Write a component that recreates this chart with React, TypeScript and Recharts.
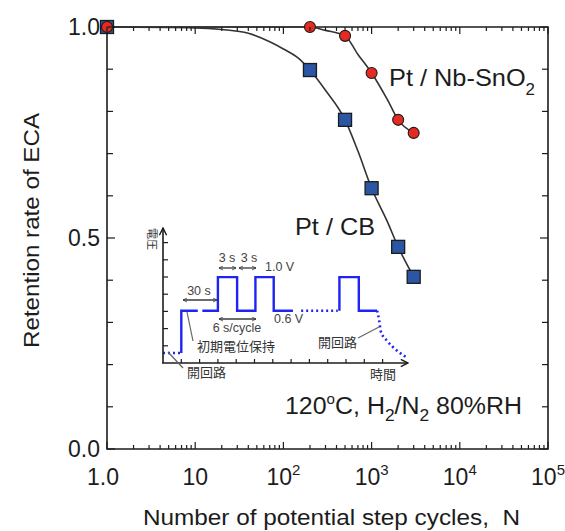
import { ComposedChart, LineChart, Line, XAxis, YAxis, ReferenceArea } from 'recharts';

// retention of ECA vs. potential step cycles (measured points)
const cycles = [1, 200, 500, 1000, 2000, 3000];
const cbRetention = [1.0, 0.898, 0.78, 0.618, 0.479, 0.408];
const nbRetention = [1.0, 1.0, 0.979, 0.891, 0.78, 0.749];

// guide curves drawn through the points
const cbCurveN = [1, 10, 20, 40, 70, 100, 150, 200, 300, 500, 700, 1000, 1500, 2000, 3000];
const cbCurveR = [1.0, 0.998, 0.994, 0.985, 0.965, 0.948, 0.925, 0.898, 0.85, 0.78, 0.706, 0.618, 0.54, 0.479, 0.408];
const nbCurveN = [1, 200, 300, 500, 700, 1000, 1500, 2000, 3000];
const nbCurveR = [1.0, 1.0, 0.992, 0.979, 0.935, 0.891, 0.829, 0.78, 0.749];

// axis ticks
const decades = [1, 10, 100, 1000, 10000, 100000];
const decadeBase = ['1.0', '10', '10', '10', '10', '10'];
const decadeExp = ['', '', '2', '3', '4', '5'];
const yTicks = [0, 0.1, 0.2, 0.3, 0.4, 0.5, 0.6, 0.7, 0.8, 0.9, 1.0];
const yLabels: Record<string, string> = { '0': '0.0', '0.5': '0.5', '1': '1.0' };

// inset: potential step waveform (schematic time / level units)
const holdT = [1.0, 1.0, 1.9];
const holdV = [0.64, 3.1, 3.1];
const stepsT = [2.15, 3.0, 3.0, 4.05, 4.05, 5.05, 5.05, 6.05, 6.05, 7.1];
const stepsV = [3.1, 3.1, 5.05, 5.05, 3.1, 3.1, 5.05, 5.05, 3.1, 3.1];
const lastT = [9.64, 9.64, 10.7, 10.7, 11.7];
const lastV = [3.1, 5.05, 5.05, 3.1, 3.1];
const ocvStartT = [0, 1.0];
const ocvStartV = [0.64, 0.64];
const skipT = [7.55, 9.55];
const skipV = [3.1, 3.1];
const decayT = [11.7, 11.82, 11.9, 12.27, 12.73, 13.36];
const decayV = [3.1, 2.49, 1.9, 1.32, 0.83, 0.35];

const zip = (xs: number[], ys: number[]) => xs.map((n, i) => ({ n, r: ys[i] }));
const wave = (ts: number[], vs: number[]) => ts.map((t, i) => ({ t, v: vs[i] }));

const minorTicks: number[] = [];
for (let d = 1; d < 100000; d *= 10) {
  for (let k = 2; k <= 9; k++) minorTicks.push(d * k);
}
const xTicks = [...decades, ...minorTicks].sort((a, b) => a - b);

const W = 565;
const H = 531;
const LEFT = 107;
const RIGHT = 548;
const TOP = 27;
const BOTTOM = 449;
const FONT = '"Liberation Sans", Arial, sans-serif';
const CJK = '"Noto Sans CJK JP", "Noto Sans", sans-serif';
const INK = '#1c1c1c';
const RED = '#e52a22';
const BLUE = '#2a56a3';
const WAVE = '#1f24f2';

const XTick = (props: any) => {
  const { x, payload } = props;
  const idx = decades.indexOf(payload.value);
  const len = idx >= 0 ? 7 : 4;
  return (
    <g>
      <line x1={x} x2={x} y1={BOTTOM} y2={BOTTOM - len} stroke={INK} strokeWidth={1.2} />
      <line x1={x} x2={x} y1={TOP} y2={TOP + len} stroke={INK} strokeWidth={1.2} />
      {idx >= 0 && (
        <text x={idx === 0 ? x - 4 : x} y={485} textAnchor="middle" fontSize={23} fontFamily={FONT} fill={INK}>
          {decadeBase[idx]}
          {decadeExp[idx] && (
            <tspan dy={-10} fontSize={15}>
              {decadeExp[idx]}
            </tspan>
          )}
        </text>
      )}
    </g>
  );
};

const YTick = (props: any) => {
  const { y, payload } = props;
  const key = String(Math.round(payload.value * 10) / 10);
  const label = yLabels[key];
  const len = label ? 8 : 6;
  return (
    <g>
      <line x1={LEFT} x2={LEFT + len} y1={y} y2={y} stroke={INK} strokeWidth={1.2} />
      <line x1={RIGHT} x2={RIGHT - len} y1={y} y2={y} stroke={INK} strokeWidth={1.2} />
      {label && (
        <text x={100} y={y + 8} textAnchor="end" fontSize={23} fontFamily={FONT} fill={INK}>
          {label}
        </text>
      )}
    </g>
  );
};

const Square = (props: any) => {
  const { cx, cy, index } = props;
  if (cx == null || cy == null) return <g key={`s${index}`} />;
  return (
    <rect key={`s${index}`} x={cx - 6.5} y={cy - 6.5} width={13} height={13} fill={BLUE} stroke={INK} strokeWidth={1.3} />
  );
};

const Circle = (props: any) => {
  const { cx, cy, index } = props;
  if (cx == null || cy == null) return <g key={`c${index}`} />;
  return <circle key={`c${index}`} cx={cx} cy={cy} r={5.5} fill={RED} stroke={INK} strokeWidth={1.1} />;
};

// inset placement (pixels) and scale units
const IN_X = 163;
const IN_Y = 228;
const IN_W = 245;
const IN_H = 136;
const IN_UX = 18.3;
const IN_UY = 17.2;

const Inset = () => (
  <div style={{ position: 'absolute', left: IN_X, top: IN_Y, width: IN_W, height: IN_H }}>
    <LineChart width={IN_W} height={IN_H} margin={{ top: 0, right: 0, bottom: 0, left: 0 }}>
      <XAxis dataKey="t" type="number" domain={[0, IN_W / IN_UX]} hide allowDataOverflow />
      <YAxis type="number" domain={[0, IN_H / IN_UY]} hide allowDataOverflow />
      <Line data={wave(ocvStartT, ocvStartV)} dataKey="v" stroke={WAVE} strokeWidth={2.6} strokeDasharray="2 3" dot={false} isAnimationActive={false} />
      <Line data={wave(holdT, holdV)} dataKey="v" stroke={WAVE} strokeWidth={2.4} dot={false} isAnimationActive={false} />
      <Line data={wave(stepsT, stepsV)} dataKey="v" stroke={WAVE} strokeWidth={2.4} dot={false} isAnimationActive={false} />
      <Line data={wave(skipT, skipV)} dataKey="v" stroke={WAVE} strokeWidth={2.6} strokeDasharray="2 3" dot={false} isAnimationActive={false} />
      <Line data={wave(lastT, lastV)} dataKey="v" stroke={WAVE} strokeWidth={2.4} dot={false} isAnimationActive={false} />
      <Line data={wave(decayT, decayV)} dataKey="v" type="monotone" stroke={WAVE} strokeWidth={2.6} strokeDasharray="2 3" dot={false} isAnimationActive={false} />
    </LineChart>
  </div>
);

const InsetDecor = () => {
  const x0 = IN_X;
  const y0 = IN_Y + IN_H - 1;
  const gray = '#3a3a3a';
  const txt = { fontFamily: FONT, fontSize: 12.5, fill: '#444' } as const;
  const jp = { fontFamily: CJK, fontSize: 13, fill: '#333' } as const;
  return (
    <g>
      <defs>
        <marker id="tip" viewBox="0 0 10 10" refX="9" refY="5" markerWidth="5" markerHeight="5" orient="auto-start-reverse" markerUnits="userSpaceOnUse">
          <path d="M1,1 L9,5 L1,9" fill="none" stroke={gray} strokeWidth={1.6} />
        </marker>
        <marker id="axtip" viewBox="0 0 10 10" refX="9" refY="5" markerWidth="9" markerHeight="9" orient="auto" markerUnits="userSpaceOnUse">
          <path d="M1,1 L9,5 L1,9" fill="none" stroke={INK} strokeWidth={1.6} />
        </marker>
      </defs>
      {/* inset axes */}
      <line x1={x0} y1={y0} x2={x0} y2={IN_Y} stroke={INK} strokeWidth={1.6} markerEnd="url(#axtip)" />
      <line x1={x0 - 1} y1={y0} x2={408} y2={y0} stroke={INK} strokeWidth={1.6} markerEnd="url(#axtip)" />
      {[1, 2, 3, 4, 5, 6, 7].map((k) => (
        <line key={`iy${k}`} x1={x0} x2={x0 + 5} y1={y0 - k * IN_UY} y2={y0 - k * IN_UY} stroke={INK} strokeWidth={1.2} />
      ))}
      {[1, 2, 3, 4, 5, 6, 7, 8, 9, 10, 11, 12].map((k) => (
        <line key={`ix${k}`} x1={x0 + k * IN_UX} x2={x0 + k * IN_UX} y1={y0} y2={y0 - 4} stroke={INK} strokeWidth={1.2} />
      ))}
      <text transform="translate(153 239) rotate(90)" textAnchor="middle" dominantBaseline="central" {...jp} fontSize={11}>
        電圧
      </text>

      {/* timing arrows */}
      <line x1={183} y1={300} x2={217} y2={300} stroke={gray} strokeWidth={1.3} markerStart="url(#tip)" markerEnd="url(#tip)" />
      <text x={199} y={295} textAnchor="middle" {...txt}>30 s</text>
      <line x1={219} y1={268} x2={236} y2={268} stroke={gray} strokeWidth={1.3} markerStart="url(#tip)" markerEnd="url(#tip)" />
      <line x1={239} y1={268} x2={256} y2={268} stroke={gray} strokeWidth={1.3} markerStart="url(#tip)" markerEnd="url(#tip)" />
      <text x={227} y={262} textAnchor="middle" {...txt}>3 s</text>
      <text x={249} y={262} textAnchor="middle" {...txt}>3 s</text>
      <text x={265} y={271} {...txt}>1.0 V</text>
      <line x1={219} y1={319} x2={256} y2={319} stroke={gray} strokeWidth={1.3} markerStart="url(#tip)" markerEnd="url(#tip)" />
      <text x={237} y={332} textAnchor="middle" {...txt}>6 s/cycle</text>
      <text x={274} y={323} {...txt}>0.6 V</text>

      {/* callouts */}
      <line x1={187} y1={312} x2={193} y2={341} stroke="#666" strokeWidth={1.2} />
      <text x={197} y={351} {...jp}>初期電位保持</text>
      <line x1={168} y1={352} x2={183} y2={368} stroke="#666" strokeWidth={1.2} />
      <text x={187} y={377} {...jp}>開回路</text>
      <line x1={358} y1={338} x2={379} y2={327} stroke="#666" strokeWidth={1.2} />
      <text x={318} y={347} {...jp}>開回路</text>
      <text x={370} y={379} {...jp}>時間</text>
    </g>
  );
};

const Labels = () => (
  <g fontFamily={FONT} fill={INK}>
    <text x={389} y={86} fontSize={24} textLength={146} lengthAdjust="spacingAndGlyphs">
      Pt / Nb-SnO
      <tspan dy={9} fontSize={16}>2</tspan>
    </text>
    <text x={295} y={235} fontSize={24} textLength={80} lengthAdjust="spacingAndGlyphs">Pt / CB</text>
    <text x={285} y={414} fontSize={23} textLength={237} lengthAdjust="spacingAndGlyphs">
      120
      <tspan dy={-10} fontSize={14}>o</tspan>
      <tspan dy={10}>C, H</tspan>
      <tspan dy={7} fontSize={16}>2</tspan>
      <tspan dy={-7}>/N</tspan>
      <tspan dy={7} fontSize={16}>2</tspan>
      <tspan dy={-7}> 80%RH</tspan>
    </text>
    <text x={143} y={525} fontSize={22} textLength={377} lengthAdjust="spacingAndGlyphs">
      Number of potential step cycles,{'\u00a0\u00a0'}N
    </text>
    <text
      transform="translate(31 231) rotate(-90)"
      x={-117}
      fontSize={22}
      dominantBaseline="central"
      textLength={235}
      lengthAdjust="spacingAndGlyphs"
    >
      Retention rate of ECA
    </text>
  </g>
);

export default function App() {
  return (
    <div style={{ position: 'absolute', left: 0, top: 0, width: W, height: H, background: '#fff' }}>
      <ComposedChart width={W} height={H} margin={{ top: TOP, right: W - RIGHT, bottom: 0, left: 0 }}>
        <XAxis
          dataKey="n"
          type="number"
          scale="log"
          domain={[1, 100000]}
          ticks={xTicks}
          interval={0}
          tick={XTick}
          tickLine={false}
          axisLine={false}
          height={H - BOTTOM}
        />
        <YAxis
          type="number"
          domain={[0, 1]}
          ticks={yTicks}
          interval={0}
          tick={YTick}
          tickLine={false}
          axisLine={false}
          width={LEFT}
        />
        <ReferenceArea x1={1} x2={100000} y1={0} y2={1} fill="none" stroke={INK} strokeWidth={1.6} ifOverflow="visible" />
        <Line data={zip(cbCurveN, cbCurveR)} dataKey="r" type="monotone" stroke="#333" strokeWidth={1.6} dot={false} isAnimationActive={false} />
        <Line data={zip(nbCurveN, nbCurveR)} dataKey="r" type="monotone" stroke="#333" strokeWidth={1.6} dot={false} isAnimationActive={false} />
        <Line data={zip(cycles, cbRetention)} dataKey="r" stroke="none" dot={Square} activeDot={false} isAnimationActive={false} />
        <Line data={zip(cycles, nbRetention)} dataKey="r" stroke="none" dot={Circle} activeDot={false} isAnimationActive={false} />
      </ComposedChart>
      <Inset />
      <svg width={W} height={H} style={{ position: 'absolute', left: 0, top: 0, pointerEvents: 'none' }}>
        <InsetDecor />
        <Labels />
      </svg>
    </div>
  );
}
